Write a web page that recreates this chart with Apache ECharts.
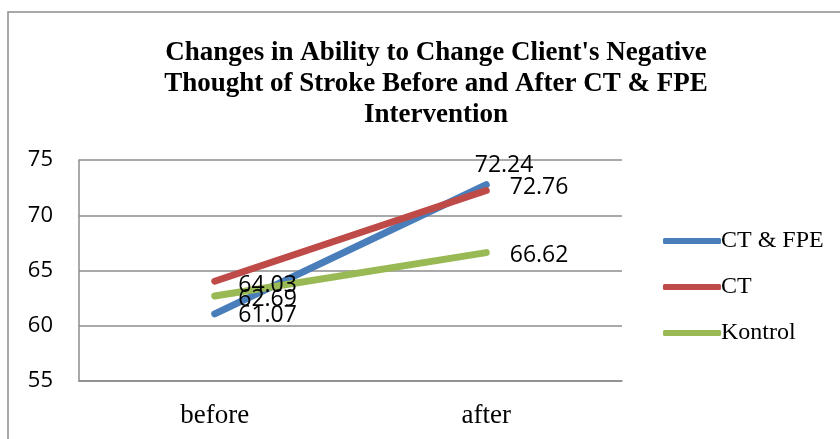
<!DOCTYPE html>
<html>
<head>
<meta charset="utf-8">
<script src="https://cdn.jsdelivr.net/npm/echarts@6/dist/echarts.min.js"></script>
<style>
  html, body { margin: 0; padding: 0; background: #fff; }
  #chart { width: 840px; height: 439px; }
</style>
</head>
<body>
<div id="chart"></div>
<script>
const categories = ['before', 'after'];
const seriesNames = ['CT & FPE', 'CT', 'Kontrol'];
const ctFpe = [61.07, 72.76];
const ct = [64.03, 72.24];
const kontrol = [62.69, 66.62];

const colors = ['#4A7EBB', '#BE4B48', '#98B954'];
const labelFont = 'Open Sans';
const serif = 'Liberation Serif';

// nudges so the value labels sit where the original put them
const labelOffsets = [
  [[0, 2], [0, 3]],
  [[0, 4], [-35, -25]],
  [[0, 3], [0, 3]],
];

function makeSeries(name, values, idx) {
  return {
    name,
    type: 'line',
    data: values.map((v, i) => ({ value: v, label: { offset: labelOffsets[idx][i] } })),
    symbol: 'circle',
    symbolSize: 1,
    showSymbol: true,
    lineStyle: { width: 7, color: colors[idx], cap: 'round' },
    itemStyle: { color: colors[idx] },
    label: {
      show: true,
      position: 'right',
      distance: 23,
      color: '#000',
      fontFamily: labelFont,
      fontSize: 23,
      formatter: (p) => p.value.toFixed(2),
    },
  };
}

const chart = echarts.init(document.getElementById('chart'), null, { renderer: 'canvas' });

chart.setOption({
  animation: false,
  backgroundColor: '#fff',
  title: {
    text: "Changes in Ability to Change Client's Negative\nThought of Stroke Before and After CT & FPE\nIntervention",
    left: 431,
    textAlign: 'center',
    top: 33,
    textStyle: {
      fontFamily: serif,
      fontWeight: 'bold',
      fontSize: 27,
      lineHeight: 31,
      color: '#000',
    },
  },
  graphic: [{
    type: 'rect',
    shape: { x: 8, y: 12, width: 900, height: 500 },
    style: { fill: 'none', stroke: '#8c8c8c', lineWidth: 1.5 },
    silent: true,
  }],
  legend: {
    orient: 'vertical',
    left: 658,
    top: 224,
    itemWidth: 58,
    itemHeight: 6,
    itemGap: 22,
    icon: 'roundRect',
    textStyle: { fontFamily: serif, fontSize: 24, color: '#000', padding: [0, 0, 0, -5] },
    data: seriesNames,
  },
  grid: { left: 79, right: 218, top: 160, bottom: 58 },
  xAxis: {
    type: 'category',
    data: categories,
    boundaryGap: true,
    axisLine: { lineStyle: { color: '#8c8c8c', width: 1.5 } },
    axisTick: { show: false },
    axisLabel: { fontFamily: serif, fontSize: 27, color: '#000', margin: 21 },
  },
  yAxis: {
    type: 'value',
    min: 55,
    max: 75,
    interval: 5,
    axisLine: { show: true, lineStyle: { color: '#8c8c8c', width: 1.5 } },
    axisTick: { show: false },
    splitLine: { lineStyle: { color: '#8c8c8c', width: 1.5 } },
    axisLabel: { fontFamily: labelFont, fontSize: 22, color: '#000', margin: 26, verticalAlign: 'middle', padding: [2, 0, 0, 0] },
  },
  series: [
    makeSeries(seriesNames[0], ctFpe, 0),
    makeSeries(seriesNames[1], ct, 1),
    makeSeries(seriesNames[2], kontrol, 2),
  ],
});
</script>
</body>
</html>
